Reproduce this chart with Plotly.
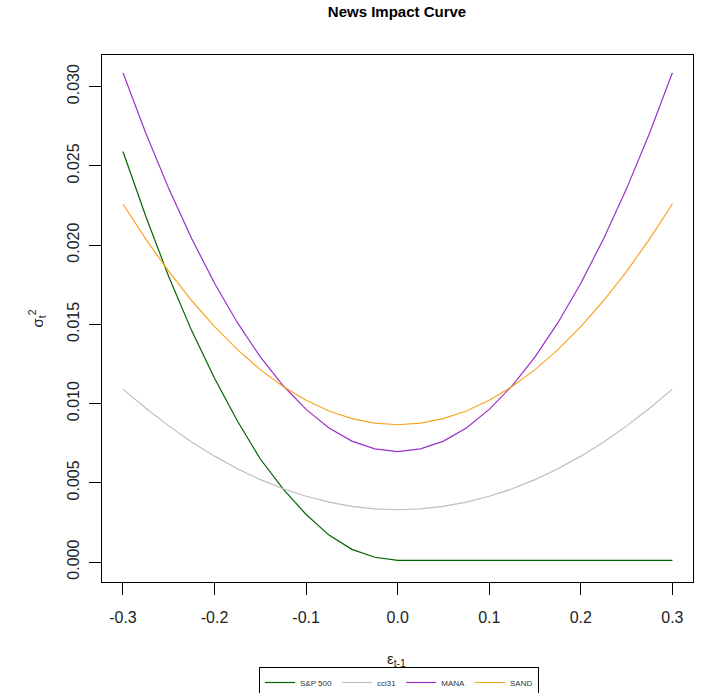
import plotly.graph_objects as go

# epsilon grid (x values)
eps = [-0.3, -0.275, -0.25, -0.225, -0.2, -0.175, -0.15, -0.125, -0.1, -0.075, -0.05, -0.025, 0.0,
       0.025, 0.05, 0.075, 0.1, 0.125, 0.15, 0.175, 0.2, 0.225, 0.25, 0.275, 0.3]

sp500 = [0.0259, 0.0218, 0.0180, 0.0146, 0.0116, 0.0089, 0.0065, 0.0046, 0.0030, 0.0017, 0.0008, 0.0003, 0.0001,
         0.0001, 0.0001, 0.0001, 0.0001, 0.0001, 0.0001, 0.0001, 0.0001, 0.0001, 0.0001, 0.0001, 0.0001]

cci31 = [0.01091, 0.00970, 0.00859, 0.00758, 0.00668, 0.00589, 0.00520, 0.00462, 0.00415, 0.00378, 0.00351, 0.00335, 0.00330,
         0.00335, 0.00351, 0.00378, 0.00415, 0.00462, 0.00520, 0.00589, 0.00668, 0.00758, 0.00859, 0.00970, 0.01091]

mana = [0.03087, 0.02705, 0.02356, 0.02041, 0.01759, 0.01510, 0.01294, 0.01112, 0.00963, 0.00846, 0.00763, 0.00714, 0.00697,
        0.00714, 0.00763, 0.00846, 0.00963, 0.01112, 0.01294, 0.01510, 0.01759, 0.02041, 0.02356, 0.02705, 0.03087]

sand = [0.02259, 0.02037, 0.01834, 0.01650, 0.01485, 0.01340, 0.01214, 0.01108, 0.01021, 0.00953, 0.00905, 0.00876, 0.00866,
        0.00876, 0.00905, 0.00953, 0.01021, 0.01108, 0.01214, 0.01340, 0.01485, 0.01650, 0.01834, 0.02037, 0.02259]

series_names = ["S&P 500", "cci31", "MANA", "SAND"]
series_values = [sp500, cci31, mana, sand]
series_colors = ["#006400", "#bebebe", "#9a30c8", "#f5a623"]

x_ticks = [-0.3, -0.2, -0.1, 0.0, 0.1, 0.2, 0.3]
x_tick_labels = ["-0.3", "-0.2", "-0.1", "0.0", "0.1", "0.2", "0.3"]
y_ticks = [0.000, 0.005, 0.010, 0.015, 0.020, 0.025, 0.030]
y_tick_labels = ["0.000", "0.005", "0.010", "0.015", "0.020", "0.025", "0.030"]

FONT = "Liberation Sans, Arial, sans-serif"

fig = go.Figure()
for name, vals, col in zip(series_names, series_values, series_colors):
    fig.add_trace(go.Scatter(x=eps, y=vals, mode="lines", name=name,
                             line=dict(color=col, width=1.2)))

fig.update_layout(
    width=706, height=693,
    margin=dict(l=102, r=13, t=55, b=111, autoexpand=False),
    paper_bgcolor="white", plot_bgcolor="white",
    font=dict(family=FONT, color="black"),
    showlegend=True,
    legend=dict(orientation="h", xref="container", yref="container",
                x=399 / 706, xanchor="center", y=1 - 667 / 693, yanchor="top",
                bordercolor="black", borderwidth=1, font=dict(size=8, color="#333"),
                itemwidth=30, tracegroupgap=0),
    title=dict(text="<b>News Impact Curve</b>", x=397 / 706, xanchor="center",
               y=1 - 12 / 693, yanchor="middle", font=dict(size=15, family=FONT)),
)

fig.update_xaxes(range=[-0.3229, 0.3225], tickvals=x_ticks, ticktext=x_tick_labels,
                 showgrid=False, zeroline=False, showline=True, mirror=True,
                 linecolor="black", linewidth=1, ticks="outside", ticklen=12,
                 tickcolor="black", tickwidth=1, tickfont=dict(size=16, color="#222"),
                 ticklabelstandoff=9)
fig.update_yaxes(range=[-0.00126, 0.03199], tickvals=y_ticks, ticktext=y_tick_labels,
                 showgrid=False, zeroline=False, showline=True, mirror=True,
                 linecolor="black", linewidth=1, ticks="outside", ticklen=12,
                 tickcolor="black", tickwidth=1, tickangle=-90,
                 tickfont=dict(size=16, color="#222"), ticklabelstandoff=4)

fig.add_annotation(text="ε<sub>t-1</sub>", xref="paper", yref="paper",
                   x=0.499, y=(582.3 - 660) / 527, xanchor="center", yanchor="middle",
                   showarrow=False, font=dict(size=15, color="#222"))
fig.add_annotation(text="σ<sub>t</sub><sup>2</sup>", xref="paper", yref="paper",
                   x=(37 - 102) / 591, y=0.5, xanchor="center", yanchor="middle",
                   textangle=-90, showarrow=False, font=dict(size=15, color="#222"))

fig.write_html("out.html")
